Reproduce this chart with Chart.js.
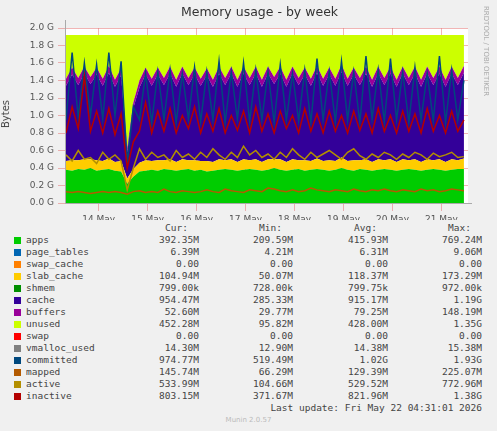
<!DOCTYPE html>
<html><head><meta charset="utf-8">
<script src="https://cdn.jsdelivr.net/npm/chart.js@4"></script>
<style>
body{margin:0;background:#f0f0f0;width:497px;height:431px;overflow:hidden;position:relative;font-family:"DejaVu Sans Mono",monospace;}
#wrap{position:absolute;left:0;top:0;width:497px;height:220px;}
.t{position:absolute;font-size:9.5px;color:#444;white-space:pre;line-height:12px;}
.r{text-align:right;}
.sw{position:absolute;width:7px;height:7px;}
</style></head><body>
<div id="wrap"><canvas id="c" width="497" height="220"></canvas></div>
<div class="t" style="left:0;width:497px;top:6px;text-align:center;font-family:'DejaVu Sans';font-size:12.5px;color:#333;padding-left:22px;box-sizing:border-box">Memory usage - by week</div>
<div class="t" style="left:-8px;top:108px;font-family:'DejaVu Sans';font-size:10px;transform:rotate(-90deg);color:#444">Bytes</div>
<div class="t" style="font-family:'DejaVu Sans';font-size:7px;color:#aaa;transform:rotate(90deg);transform-origin:left top;left:492px;top:6px">RRDTOOL / TOBI OETIKER</div>
<div id="leg"></div>
<script>
const dayLabels=["14 May","15 May","16 May","17 May","18 May","19 May","20 May","21 May"];
const dayHours=[16,40,64,88,112,136,160,184];
const apps=[0.38,0.37,0.39,0.38,0.40,0.37,0.38,0.39,0.37,0.36,0.22,
0.30,0.36,0.37,0.38,0.37,0.39,0.38,0.37,0.38,0.39,0.37,
0.38,0.36,0.37,0.38,0.39,0.38,0.37,0.38,0.39,0.38,0.37,
0.38,0.40,0.38,0.37,0.38,0.39,0.37,0.38,0.39,0.38,0.37,
0.38,0.40,0.38,0.37,0.39,0.38,0.37,0.38,0.39,0.38,0.37,
0.38,0.39,0.38,0.37,0.38,0.39,0.38,0.37,0.38,0.39,0.39];
const slab=[0.10,0.12,0.10,0.12,0.10,0.12,0.10,0.12,0.10,0.12,0.06,
0.09,0.10,0.12,0.10,0.12,0.10,0.12,0.10,0.12,0.10,0.12,
0.10,0.12,0.10,0.12,0.10,0.12,0.10,0.12,0.10,0.12,0.10,
0.12,0.10,0.12,0.10,0.12,0.10,0.12,0.10,0.12,0.10,0.12,
0.10,0.12,0.10,0.12,0.10,0.12,0.10,0.12,0.10,0.12,0.10,
0.12,0.10,0.12,0.10,0.12,0.10,0.12,0.10,0.12,0.10,0.12];
const cache=[0.86,0.98,0.86,0.98,0.86,0.98,0.86,0.98,0.86,0.98,0.30,
0.70,0.86,0.98,0.86,0.98,0.86,0.98,0.86,0.98,0.86,0.98,
0.86,0.98,0.86,0.98,0.86,0.98,0.86,0.98,0.86,0.98,0.86,
0.98,0.86,0.98,0.86,0.98,0.86,0.98,0.86,0.98,0.86,0.98,
0.86,0.98,0.86,0.98,0.86,0.98,0.86,0.98,0.86,0.98,0.86,
0.98,0.86,0.98,0.86,0.98,0.86,0.98,0.86,0.98,0.86,0.98];
const buffers=[0.08,0.08,0.08,0.08,0.08,0.08,0.08,0.08,0.08,0.08,0.05,
0.06,0.08,0.08,0.08,0.08,0.08,0.08,0.08,0.08,0.08,0.08,
0.08,0.08,0.08,0.08,0.08,0.08,0.08,0.08,0.08,0.08,0.08,
0.08,0.08,0.08,0.08,0.08,0.08,0.08,0.08,0.08,0.08,0.08,
0.08,0.08,0.08,0.08,0.08,0.08,0.08,0.08,0.08,0.08,0.08,
0.08,0.08,0.08,0.08,0.08,0.08,0.08,0.08,0.08,0.08,0.08];
const unused=[0.50,0.37,0.49,0.36,0.48,0.37,0.50,0.35,0.51,0.38,1.29,
0.77,0.52,0.37,0.50,0.37,0.49,0.36,0.51,0.36,0.49,0.37,
0.50,0.38,0.51,0.36,0.49,0.36,0.51,0.36,0.49,0.36,0.51,
0.36,0.48,0.36,0.51,0.36,0.49,0.37,0.50,0.35,0.50,0.37,
0.50,0.34,0.50,0.37,0.49,0.36,0.51,0.36,0.49,0.36,0.51,
0.36,0.49,0.36,0.51,0.36,0.49,0.36,0.51,0.36,0.49,0.35];
const committed=[0.95,1.72,0.98,1.60,1.00,1.58,0.96,1.72,1.00,1.62,0.45,
1.10,0.95,1.48,0.92,1.50,0.95,1.52,0.92,1.48,0.96,1.55,
0.93,1.50,0.95,1.62,0.92,1.50,0.96,1.60,0.93,1.52,0.95,
1.50,0.92,1.58,0.95,1.48,0.94,1.52,0.92,1.65,0.95,1.50,
0.93,1.62,0.95,1.50,0.92,1.68,0.96,1.52,0.93,1.65,0.95,
1.50,0.92,1.55,0.95,1.48,0.94,1.68,0.92,1.52,0.95,1.40];
const inactive=[0.80,1.10,0.85,1.45,0.82,1.05,0.80,1.08,0.78,1.02,0.40,
0.70,0.82,1.15,0.80,1.05,0.82,1.08,0.80,1.00,0.85,1.10,
0.80,1.02,0.82,1.08,0.80,1.00,0.83,1.05,0.80,1.10,0.82,
1.02,0.80,1.05,0.85,1.00,0.80,1.08,0.82,1.02,0.80,1.05,
0.82,1.00,0.80,1.05,0.83,1.02,0.80,1.08,0.82,1.00,0.80,
1.05,0.82,1.02,0.80,1.08,0.82,1.00,0.80,1.05,0.82,0.95];
const active=[0.55,0.48,0.60,0.50,0.52,0.45,0.58,0.50,0.55,0.48,0.15,
0.40,0.62,0.50,0.58,0.52,0.55,0.48,0.60,0.52,0.56,0.50,
0.58,0.52,0.62,0.55,0.50,0.58,0.52,0.65,0.55,0.60,0.52,
0.56,0.50,0.58,0.52,0.62,0.55,0.50,0.58,0.52,0.56,0.60,
0.55,0.50,0.58,0.62,0.54,0.50,0.56,0.52,0.58,0.55,0.50,
0.56,0.52,0.58,0.55,0.50,0.57,0.53,0.55,0.58,0.52,0.53];
const mapped=[0.13,0.12,0.13,0.12,0.11,0.12,0.13,0.12,0.13,0.12,0.10,
0.13,0.14,0.12,0.13,0.12,0.16,0.13,0.12,0.14,0.13,0.12,
0.13,0.15,0.13,0.12,0.16,0.14,0.13,0.12,0.15,0.14,0.13,
0.17,0.16,0.14,0.13,0.15,0.13,0.14,0.17,0.15,0.14,0.13,
0.15,0.14,0.13,0.16,0.14,0.13,0.15,0.14,0.16,0.14,0.13,
0.15,0.14,0.13,0.16,0.14,0.15,0.13,0.14,0.16,0.15,0.14];
const hours=apps.map((_,i)=>i*3);
const legendRows=[
["apps","#00cc00","392.35M","209.59M","415.93M","769.24M"],
["page_tables","#0066b3","6.39M","4.21M","6.31M","9.06M"],
["swap_cache","#ff8000","0.00","0.00","0.00","0.00"],
["slab_cache","#ffcc00","104.94M","50.07M","118.37M","173.29M"],
["shmem","#008f00","799.00k","728.00k","799.75k","972.00k"],
["cache","#330099","954.47M","285.33M","915.17M","1.19G"],
["buffers","#990099","52.60M","29.77M","79.25M","148.19M"],
["unused","#ccff00","452.28M","95.82M","428.00M","1.35G"],
["swap","#ff0000","0.00","0.00","0.00","0.00"],
["vmalloc_used","#808080","14.30M","12.90M","14.38M","15.38M"],
["committed","#00487d","974.77M","519.49M","1.02G","1.93G"],
["mapped","#b35a00","145.74M","66.29M","129.39M","225.07M"],
["active","#b38f00","533.99M","104.66M","529.52M","772.96M"],
["inactive","#b30000","803.15M","371.67M","821.96M","1.38G"]];

const pts=a=>a.map((v,i)=>({x:hours[i],y:v}));
function area(label,arr,color,first){return {label,data:pts(arr),backgroundColor:color,borderWidth:0,fill:first?'origin':'-1',stack:'mem',order:10,pointRadius:0,tension:0};}
function line(label,arr,color,w){return {label,data:pts(arr),borderColor:color,borderWidth:w,fill:false,stack:label,order:1,pointRadius:0,tension:0};}
const grid={color:'rgba(230,120,120,0.55)',borderDash:[1,2],lineWidth:1};
const bgPlugin={id:'bg',beforeDraw(ch){const a=ch.chartArea,c=ch.ctx;c.save();c.fillStyle='#fff';c.fillRect(a.left,a.top,a.right-a.left,a.bottom-a.top);c.restore();},
afterDraw(ch){const a=ch.chartArea,c=ch.ctx;c.save();c.strokeStyle='#aaa';c.lineWidth=1;c.beginPath();c.moveTo(a.left-0.5,a.top-8);c.lineTo(a.left-0.5,a.bottom+0.5);c.lineTo(a.right+4,a.bottom+0.5);c.stroke();c.restore();}};
new Chart(document.getElementById('c'),{type:'line',
data:{datasets:[
area('apps',apps,'#00cc00',true),area('slab_cache',slab,'#ffcc00'),area('cache',cache,'#330099'),area('buffers',buffers,'#990099'),area('unused',unused,'#ccff00'),
line('inactive',inactive,'#b30000',1.5),line('active',active,'#b38f00',1.5),line('mapped',mapped,'#b35a00',1.5),line('committed',committed,'#00487d',1.5)]},
options:{animation:false,responsive:false,layout:{padding:{left:0,right:29,top:28,bottom:0}},
plugins:{legend:{display:false},tooltip:{enabled:false}},
scales:{
x:{type:'linear',min:0,max:197,grid:grid,border:{display:false},
 afterBuildTicks:s=>{s.ticks=dayHours.map(v=>({value:v}));},
 afterFit:s=>{s.height=17;},
 ticks:{autoSkip:false,maxRotation:0,color:'#555',font:{family:'DejaVu Sans',size:9},padding:3,callback:(v)=>dayLabels[dayHours.indexOf(v)]}},
y:{stacked:true,min:0,max:2.0,grid:grid,border:{display:false},
 afterFit:s=>{s.width=66;},
 afterBuildTicks:s=>{s.ticks=[0,0.2,0.4,0.6,0.8,1.0,1.2,1.4,1.6,1.8,2.0].map(v=>({value:v}));},
 ticks:{color:'#555',font:{family:'DejaVu Sans',size:9},padding:4,callback:v=>v.toFixed(1)+' G'}}}},
plugins:[bgPlugin]});

const leg=document.getElementById('leg');
let h='';
const colR=[199,293,388,482];
['Cur:','Min:','Avg:','Max:'].forEach((t,j)=>{h+=`<div class="t" style="left:${colR[j]-71}px;width:60px;top:222px;text-align:right">${t}</div>`;});
legendRows.forEach((r,i)=>{const y=234+i*12;
 h+=`<div class="sw" style="left:14px;top:${y+3}px;background:${r[1]}"></div>`;
 h+=`<div class="t" style="left:26px;top:${y}px">${r[0]}</div>`;
 for(let j=0;j<4;j++){h+=`<div class="t r" style="left:${colR[j]-90}px;width:90px;top:${y}px">${r[j+2]}</div>`;}
});
h+=`<div class="t r" style="left:200px;width:282px;top:402px">Last update: Fri May 22 04:31:01 2026</div>`;
h+=`<div class="t" style="left:0;width:497px;text-align:center;top:414px;font-family:'DejaVu Sans';font-size:7px;color:#bbb">Munin 2.0.57</div>`;
leg.innerHTML=h;
</script></body></html>
